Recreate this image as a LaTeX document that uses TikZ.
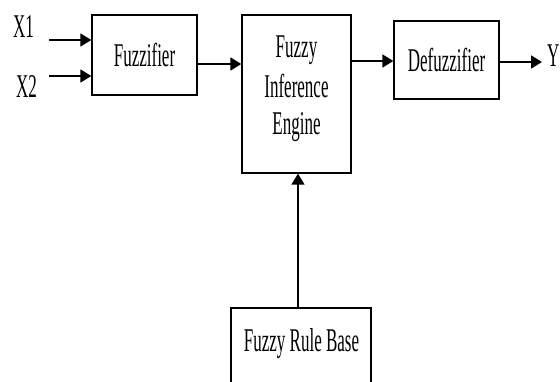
\documentclass[tikz,border=0pt]{standalone}
\usepackage{fontspec}
\setmainfont{Liberation Serif}
\usetikzlibrary{arrows.meta}
\newcommand\talltext[1]{\scalebox{1}[1.95]{#1}}
\begin{document}
\begin{tikzpicture}[x=1pt,y=-1pt,
  box/.style={draw, line width=1.3pt, inner sep=0pt},
  lbl/.style={inner sep=0pt, anchor=base, font=\fontsize{17}{20}\selectfont},
  conn/.style={line width=1.8pt, -{Triangle[length=11pt,width=13pt]}}]
\useasboundingbox[fill=white] (0,0) rectangle (560,382);
\clip (0,0) rectangle (560,382);
% boxes
\node[box, minimum width=105pt, minimum height=80pt] (fuzz) at (144.5,55) {};
\node[box, minimum width=109pt, minimum height=158pt] (eng) at (296.5,94) {};
\node[box, minimum width=105pt, minimum height=78pt] (defuzz) at (446.5,60) {};
\node[box, minimum width=140pt, minimum height=120pt] (rule) at (301,368) {};
% texts
\node[lbl] (tfuzz) at (144.5,67) {\talltext{Fuzzifier}};
\node[lbl] (teng1) at (296.5,58) {\talltext{Fuzzy}};
\node[lbl] (teng2) at (296.5,98) {\talltext{Inference}};
\node[lbl] (teng3) at (296.5,135) {\talltext{Engine}};
\node[lbl] (tdefuzz) at (446.5,72) {\talltext{Defuzzifier}};
\node[lbl] (trule) at (301.5,352) {\talltext{Fuzzy Rule Base}};
\node[lbl] (x1) at (23.5,38) {\talltext{X1}};
\node[lbl] (x2) at (26.5,98) {\talltext{X2}};
\node[lbl, anchor=base west] (y) at (547,67) {\talltext{Y}};
% connector helpers
\coordinate (x1s) at (49,40);
\coordinate (x2s) at (49,76);
\coordinate (fe) at (0,64);
\coordinate (ed) at (0,61);
\coordinate (ye) at (542,62);
\coordinate (vx) at (298,0);
% connectors
\draw[conn] (x1s) -- (fuzz.west |- x1s);
\draw[conn] (x2s) -- (fuzz.west |- x2s);
\draw[conn] (fuzz.east |- fe) -- (eng.west |- fe);
\draw[conn] (eng.east |- ed) -- (defuzz.west |- ed);
\draw[conn] (defuzz.east |- ye) -- (ye);
\draw[conn, line width=1.4pt] (rule.north -| vx) -- (eng.south -| vx);
\end{tikzpicture}
\end{document}
